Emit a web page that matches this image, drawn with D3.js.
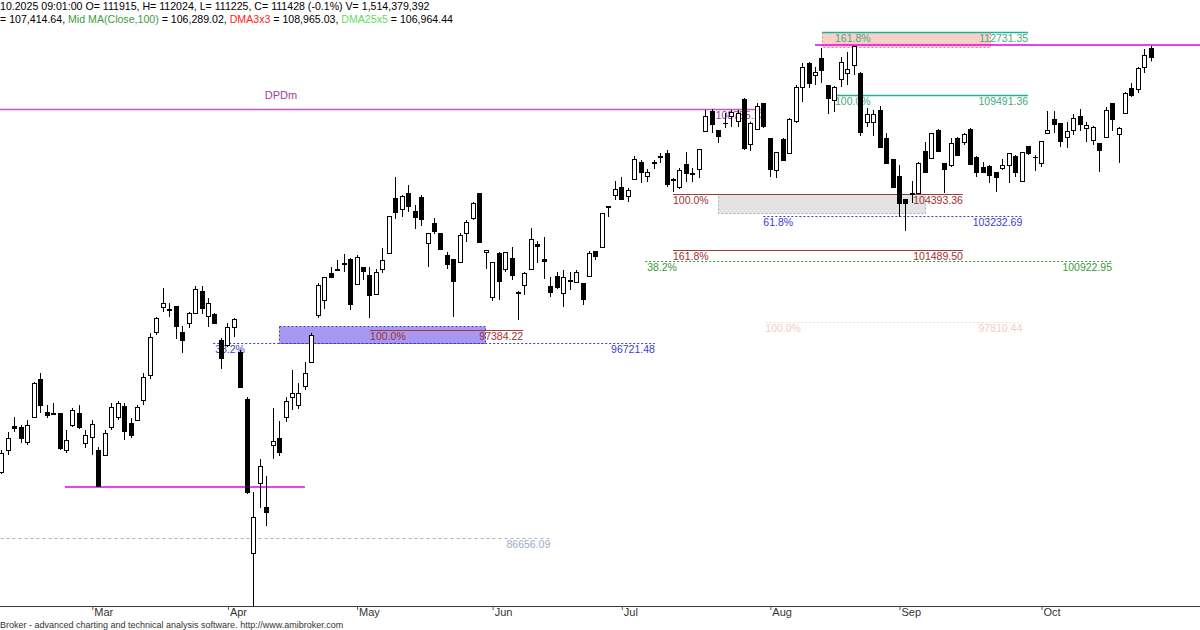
<!DOCTYPE html>
<html><head><meta charset="utf-8">
<script src="https://cdn.jsdelivr.net/npm/d3@7"></script>
<style>
html,body{margin:0;padding:0;background:#fff;}
svg{display:block;font-family:"Liberation Sans",Arial,sans-serif;}
</style></head><body>
<svg id="c" width="1200" height="630"></svg>
<script>
// ---- DATA ----
const dates = [
"02-11","02-12","02-13","02-14","02-17","02-18","02-19","02-20","02-21","02-24","02-25","02-26","02-27","02-28",
"03-03","03-04","03-05","03-06","03-07","03-10","03-11","03-12","03-13","03-14","03-17","03-18","03-19","03-20","03-21","03-24","03-25","03-26","03-27","03-28","03-31",
"04-01","04-02","04-03","04-04","04-07","04-08","04-09","04-10","04-11","04-14","04-15","04-16","04-17","04-22","04-23","04-24","04-25","04-28","04-29","04-30",
"05-02","05-05","05-06","05-07","05-08","05-09","05-12","05-13","05-14","05-15","05-16","05-19","05-20","05-21","05-22","05-23","05-26","05-27","05-28","05-29","05-30",
"06-02","06-03","06-04","06-05","06-06","06-09","06-10","06-11","06-12","06-13","06-16","06-17","06-18","06-20","06-23","06-24","06-25","06-26","06-27","06-30",
"07-01","07-02","07-03","07-04","07-07","07-08","07-09","07-10","07-11","07-14","07-15","07-16","07-17","07-18","07-21","07-22","07-23","07-24","07-25","07-28","07-29","07-30","07-31",
"08-01","08-04","08-05","08-06","08-07","08-08","08-11","08-12","08-13","08-14","08-18","08-19","08-20","08-21","08-22","08-25","08-26","08-27","08-28","08-29",
"09-01","09-02","09-03","09-04","09-05","09-08","09-09","09-10","09-11","09-12","09-15","09-16","09-17","09-18","09-19","09-22","09-23","09-24","09-25","09-26","09-29","09-30",
"10-01","10-02","10-03","10-06","10-07","10-08","10-09","10-10","10-13","10-14","10-15","10-16","10-17","10-20","10-21","10-22","10-23","10-24"];

const open = [90059,91193,92430,92378,91605,92894,94852,93151,93100,93100,91193,92481,93100,91553,
91863,91193,90935,92378,92894,93461,92584,92739,93770,95058,97275,98563,98409,98615,97275,97738,98254,99389,98099,98202,96862,
96604,97532,96244,93821,85883,89492,88254,91450,91811,92894,93924,93512,94492,95728,98151,98924,100316,100471,100832,101038,
99749,100625,100213,99234,100522,101347,104182,103615,104439,103512,104233,101861,102894,102378,101244,101038,100883,102378,103151,104439,101399,
99080,101347,100522,101089,99362,99698,100522,101810,101038,99646,100162,99286,99955,99852,99801,100162,101450,101656,103770,104336,
104749,104284,105161,106037,105316,105986,106347,106502,105161,104749,105934,105496,105677,107635,108666,107687,108047,108408,108151,109285,106965,107738,109078,
107274,105625,107223,106502,108151,109903,111141,110522,111398,110007,109233,110316,110625,111038,110625,108099,108099,108718,107274,106192,
105316,104130,104439,104439,106604,106243,107687,105986,105883,107274,107068,107738,106295,105779,105831,105522,105728,105883,106347,105058,106862,106295,
105986,107532,108254,108047,107326,107687,108408,107790,107171,107017,107326,109078,107480,108563,109852,109800,110934,111915];

const high = [91193,92121,92894,92481,92739,94698,95161,93512,93615,93100,92224,93358,93512,92224,
92739,91347,92224,93615,93718,93615,92842,93512,95161,97223,98048,99543,98769,98615,97584,98306,99646,99646,99028,98254,96965,
97738,97996,96347,93924,89028,90729,89853,93358,92687,93924,95316,94646,95728,97223,99801,100110,100625,100986,101296,101089,
101244,100625,100625,100522,101605,103254,105264,104336,104851,103821,104336,102378,103151,102378,101399,101038,102378,103048,103976,104439,101502,
100883,101399,101399,101656,99389,100368,102636,101965,102172,100110,100368,100471,100368,100471,99801,101450,101450,103409,103770,105058,
105264,104697,106347,106140,105677,106140,106502,106656,105212,105728,106553,105728,106707,108718,108769,107687,108563,108718,108718,109336,108120,109078,109078,
107274,106553,107274,108305,110007,111141,111192,110934,111914,110007,109955,111450,111707,112017,110677,108821,108718,108924,107532,106192,
105883,104130,105058,106037,107068,107532,107738,105986,107274,107326,107532,107790,106347,106037,105883,105522,106192,106502,106398,106553,106862,106398,
107120,108666,108666,108047,108099,108511,108769,108099,107893,107017,108872,109078,107841,109646,110110,110934,111862,112024];

const low = [89956,90935,92121,91553,91450,92842,93100,92842,92997,91193,91038,92378,92275,91296,
90935,89286,90883,92224,92739,91708,91811,92687,93512,94852,97120,98306,98048,96914,96192,97481,98202,98202,97532,97687,95367,
96501,97017,94389,88925,82800,88203,87275,90729,90883,92636,93255,93306,94285,95676,97996,98460,100058,100419,100368,98409,
99698,99955,97996,99234,100316,101296,103100,103203,103460,102584,102739,100625,102327,101553,100522,98048,100883,101913,103048,101861,100522,
98872,98924,100368,99955,97893,99183,100522,100832,100007,99080,99492,98563,99440,99852,98666,100162,100986,101656,103203,104079,
104079,103976,105109,104955,105006,105677,105986,104749,104491,104645,105006,105006,105212,107583,107532,107017,107790,107841,107841,106656,106604,107687,107790,
105264,105212,106089,106502,108050,109130,109852,110007,110110,108511,108614,109903,110007,110522,107377,107841,107377,106759,105934,104749,
103203,102481,103924,104439,105522,106243,106604,104439,105779,106347,106913,105934,105264,105470,104955,104491,105625,104955,105264,105058,106398,105573,
105779,107532,107532,106810,106759,107429,107635,107068,106913,105522,107274,107635,105986,108563,109388,109594,110625,111225];

const close = [91038,91811,92352,91811,92481,94646,93512,92997,93048,91296,91708,93255,92378,91966,
92533,89337,92069,93409,93615,92172,91966,93409,94955,97017,97996,98769,98460,97584,96862,98254,99492,98512,98769,97738,95934,
97532,97945,94440,89028,87739,90368,87996,91656,91090,93718,94130,94130,95161,97120,99698,100110,100110,100522,100780,98718,
101141,100419,99183,100368,100986,103254,103460,104284,103770,103203,103100,102378,102481,101553,100780,99904,102275,102945,103924,101913,101502,
100883,99904,101399,100213,99310,100316,102069,101707,100935,99337,99595,100110,99929,100368,98977,101347,101192,103409,103744,104645,
104130,104594,106192,105522,105522,106012,106321,104903,105135,105625,105470,105470,106707,108408,107996,107377,108022,108614,108563,106759,108047,108924,107893,
105676,106553,106140,108254,109903,110934,110110,110677,110780,109336,109903,111192,110831,112017,107583,108511,108511,106810,105986,104749,
103924,103924,104413,105986,105522,107532,106604,105677,107017,106398,107480,105934,105522,105522,105367,105264,105883,106502,105522,106553,106502,106270,
107120,107687,107996,107120,107635,108305,107996,107944,107841,106656,108718,108254,107790,109594,109491,110883,111553,111428];

const monthLabels = ["Mar","Apr","May","Jun","Jul","Aug","Sep","Oct"];
const priceDomain = [83151, 114388];

// horizontal levels: [price, startIdx, endIdx, leftLabel, leftLabelIdx, rightLabel, kind]
const levels = [
  [108755, -2, 118.3, "", 0, "108755.13", "dpdm"],
  [97384.22, 57.1, 80.8, "100.0%", 57.1, "97384.22", "red"],
  [96721.48, 32.8, 101.2, "38.2%", 33.1, "96721.48", "blue"],
  [86656.09, -2, 85.0, "", 0, "86656.09", "grey"],
  [104393.36, 104.0, 148.9, "100.0%", 104.0, "104393.36", "red"],
  [103232.69, 118.0, 158.1, "61.8%", 118.0, "103232.69", "blue"],
  [101489.50, 104.0, 148.9, "161.8%", 104.0, "101489.50", "red"],
  [100922.95, 99.7, 172.0, "38.2%", 100.0, "100922.95", "green"],
  [97810.44, 118.3, 158.1, "100.0%", 118.3, "97810.44", "faint"],
  [112731.35, 127.1, 159.0, "161.8%", 129.1, "112731.35", "teal"],
  [109491.36, 129.1, 159.0, "100.0%", 129.1, "109491.36", "teal"]
];
// zones: [priceTop, priceBottom, startIdx, endIdx, kind]
const zones = [
  [97580, 96721.48, 43.0, 74.9, "purple"],
  [104393.36, 103409, 111.0, 143.0, "gray"],
  [112731.35, 111965, 127.1, 153.1, "pink"]
];
// support / resistance lines: [price, startIdx, endIdx]
const srLines = [[89286, 9.85, 47.0], [112068, 126.0, 190]];
const dpdmName = ["DPDm", 40.8];

// ---- STYLES ----
const lvlStyle = {
  red:{stroke:"#a33a3a",dash:null,text:"#9a3232",w:1},
  blue:{stroke:"#3c3cd8",dash:"2,2",text:"#3c3cd0",w:1},
  green:{stroke:"#3a9a3a",dash:"2,2",text:"#3a9a3a",w:1},
  teal:{stroke:"#1fb09c",dash:null,text:"#4aa880",w:1.4},
  grey:{stroke:"#b4b4b4",dash:"3,3",text:"#9aacc8",w:1},
  faint:{stroke:"#f6dada",dash:"2,2",text:"#f2cccc",w:1},
  dpdm:{stroke:"#c458c4",dash:null,text:"#a040a0",w:1.5}
};
const zoneStyle = {
  purple:{fill:"#a898f2",stroke:"#3a3ad0"},
  gray:{fill:"#e3e3e3",stroke:"#a8a8a8"},
  pink:{fill:"#f9d0c8",stroke:"#e08888"}
};

// ---- CHART ----
const svg = d3.select("#c");
const R = [1.4, 1150.8];
const x = d3.scalePoint().domain(dates).range(R);
const xi = d3.scaleLinear().domain([0, dates.length-1]).range(R);
const y = d3.scaleLinear().domain(priceDomain).range([606, 0]);

svg.append("defs").append("clipPath").attr("id","plot")
  .append("rect").attr("x",0).attr("y",0).attr("width",1200).attr("height",606);

const plot = svg.append("g").attr("clip-path","url(#plot)");
const ann = plot.append("g");

zones.forEach(([pt,pb,i0,i1,k])=>{
  const s = zoneStyle[k];
  ann.append("rect")
    .attr("x",Math.round(xi(i0))+0.5).attr("y",Math.round(y(pt))+0.5)
    .attr("width",Math.round(xi(i1)-xi(i0))).attr("height",Math.round(y(pb)-y(pt)))
    .attr("fill",s.fill).attr("stroke",s.stroke).attr("stroke-dasharray","2,2");
});

levels.forEach(([p,i0,i1,ll,li,rl,k])=>{
  const s = lvlStyle[k];
  const yy = Math.round(y(p))+0.5;
  ann.append("line").attr("x1",xi(i0)).attr("x2",xi(i1)).attr("y1",yy).attr("y2",yy)
    .attr("stroke",s.stroke).attr("stroke-width",s.w).attr("stroke-dasharray",s.dash);
  if(ll) ann.append("text").attr("x",xi(li)).attr("y",yy+9.5).attr("font-size",10.5)
    .attr("fill",s.text).text(ll);
  if(rl) ann.append("text").attr("x",xi(i1)).attr("y",yy+9.5).attr("font-size",10.5)
    .attr("text-anchor","end").attr("fill",s.text).text(rl);
});
ann.append("text").attr("x",xi(dpdmName[1])).attr("y",Math.round(y(levels[0][0]))-10)
  .attr("font-size",11).attr("fill","#a040a0").text(dpdmName[0]);

srLines.forEach(([p,i0,i1])=>{
  ann.append("line").attr("x1",xi(i0)).attr("x2",xi(i1)).attr("y1",y(p)).attr("y2",y(p))
    .attr("stroke","#e600e6").attr("stroke-width",1.6);
});

// candles
const idx = d3.range(dates.length);
const cg = plot.append("g");
const left = i => Math.round(x(dates[i]) - 2);
cg.selectAll("line.w").data(idx).join("line")
  .attr("x1",i=>left(i)+2.5).attr("x2",i=>left(i)+2.5)
  .attr("y1",i=>y(high[i])).attr("y2",i=>y(low[i]))
  .attr("stroke","#000").attr("stroke-width",1);
cg.selectAll("rect.b").data(idx).join("rect")
  .attr("x",i=>left(i)+0.5).attr("width",4)
  .attr("y",i=>Math.round(y(Math.max(open[i],close[i])))+0.5)
  .attr("height",i=>Math.max(0.01,Math.round(y(Math.min(open[i],close[i]))-y(Math.max(open[i],close[i])))))
  .attr("fill",i=>close[i]>=open[i]?"#fff":"#000")
  .attr("stroke","#000").attr("stroke-width",1);

// x axis
svg.append("line").attr("x1",0).attr("x2",1200).attr("y1",606.5).attr("y2",606.5)
  .attr("stroke","#3a3a3a").attr("stroke-width",1);
const monthStarts = dates.filter((d,i)=>i>0 && d.slice(0,2)!==dates[i-1].slice(0,2));
const ax = svg.append("g").attr("transform","translate(0,606)")
  .call(d3.axisBottom(x).tickValues(monthStarts).tickFormat((d,i)=>monthLabels[i]).tickSize(4).tickSizeOuter(0));
ax.select(".domain").remove();
ax.selectAll(".tick line").attr("stroke","#555").attr("transform","translate(0.5,0)");
ax.selectAll(".tick text").attr("text-anchor","start").attr("x",2).attr("y",10).attr("dy",0)
  .attr("font-size",11).attr("font-family","Liberation Sans, Arial, sans-serif").attr("fill","#333");

// header
const h1 = svg.append("text").attr("x",0).attr("y",9.5).attr("font-size",10.6).attr("fill","#000");
h1.text("10.2025 09:01:00 O= 111915, H= 112024, L= 111225, C= 111428 (-0.1%) V= 1,514,379,392");
const h2 = svg.append("text").attr("x",0).attr("y",22.5).attr("font-size",10.6).attr("fill","#000");
[["= 107,414.64, ","#000"],["Mid MA(Close,100)","#3c9c3c"],[" = 106,289.02, ","#000"],
 ["DMA3x3","#ff2222"],[" = 108,965.03, ","#000"],["DMA25x5","#5ede5e"],[" = 106,964.44","#000"]]
 .forEach(([t,c])=>h2.append("tspan").attr("fill",c).text(t));

// footer
svg.append("text").attr("x",0).attr("y",627.5).attr("font-size",9).attr("fill","#333")
  .text("Broker - advanced charting and technical analysis software. http://www.amibroker.com");
</script>
</body></html>
